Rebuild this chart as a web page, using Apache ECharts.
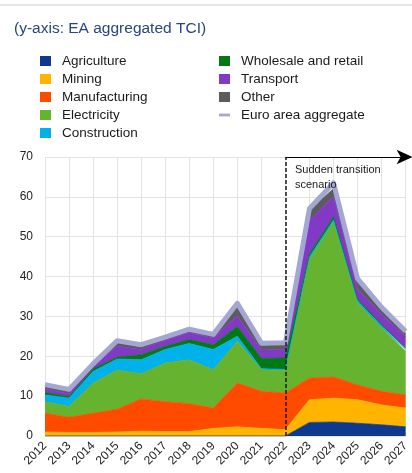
<!DOCTYPE html>
<html>
<head>
<meta charset="utf-8">
<script src="https://cdn.jsdelivr.net/npm/echarts@6/dist/echarts.min.js"></script>
<style>
html,body{margin:0;padding:0;background:#fff;}
#chart{width:412px;height:473px;}
</style>
</head>
<body>
<div id="chart"></div>
<script>
var years = ['2012','2013','2014','2015','2016','2017','2018','2019','2020','2021','2022','2023','2024','2025','2026','2027'];
var yTicks = [0,10,20,30,40,50,60,70];
var agriculture   = [0,0,0,0,0,0,0,0,0,0,0,3.4,3.5,3.2,2.8,2.3];
var mining        = [1.0,0.9,0.9,1.0,1.2,1.1,1.1,1.9,2.3,1.9,1.6,5.7,6.0,5.9,5.0,4.7];
var manufacturing = [4.7,3.8,4.8,5.7,8.1,7.5,7.0,5.1,11.0,9.3,9.2,5.4,5.3,3.7,3.4,3.3];
var electricity   = [2.9,2.7,7.6,9.8,6.3,9.7,11.0,9.6,10.5,5.4,5.6,29.8,38.8,20.6,15.9,10.9];
var construction  = [1.7,2.1,2.9,2.8,3.5,3.4,4.1,5.1,1.2,0.3,0.3,0.6,0.6,0.5,0.5,0.4];
var wholesale     = [0.6,0.4,0.7,0.5,1.3,0.8,1.0,1.2,2.5,2.6,2.9,0.8,0.8,0.5,0.4,0.4];
var transport     = [0.9,0.7,0.6,2.7,1.3,1.5,1.7,1.7,2.7,2.1,2.1,8.4,5.0,2.5,2.5,2.9];
var other         = [0.6,0.6,0.5,1.0,0.6,0.4,0.4,0.4,2.4,1.2,1.2,2.5,2.1,2.1,1.2,0.9];
var euroArea      = [12.9,11.7,18.1,23.9,22.9,24.8,26.8,25.5,33.3,23.3,23.4,57.1,63.5,39.5,32.3,26.3];

var seriesDefs = [
  ['Agriculture', agriculture, '#0d3a8e'],
  ['Mining', mining, '#ffb400'],
  ['Manufacturing', manufacturing, '#ff4b00'],
  ['Electricity', electricity, '#65b32e'],
  ['Construction', construction, '#00b1ea'],
  ['Wholesale and retail', wholesale, '#007816'],
  ['Transport', transport, '#8139c6'],
  ['Other', other, '#5c5c5c']
];

var series = seriesDefs.map(function(d){
  return {
    name: d[0], type: 'line', stack: 'total', data: d[1],
    symbol: 'none', smooth: false,
    itemStyle: {color: d[2]},
    lineStyle: {color: d[2], width: 0.8},
    areaStyle: {color: d[2], opacity: 1},
    emphasis: {disabled: true},
    z: 2
  };
});
series.push({
  name: 'Euro area aggregate', type: 'line', data: euroArea,
  symbol: 'none', smooth: false,
  itemStyle: {color: '#a4a7d3'},
  lineStyle: {color: '#a4a7d3', width: 5, join: 'round'},
  emphasis: {disabled: true},
  z: 3,
  markLine: {
    silent: true,
    animation: false,
    label: {show: false},
    data: [
      [{coord: ['2022', 0], symbol: 'none', lineStyle: {type: [4,2], color: '#1a1a1a', width: 1.5}},
       {coord: ['2022', 70], symbol: 'none'}],
      [{coord: ['2022', 70], symbol: 'none', lineStyle: {type: 'solid', color: '#000', width: 1.2}},
       {coord: ['2027', 70], symbol: 'arrow', symbolSize: [11, 16], symbolOffset: [0, -7]}]
    ]
  }
});

var legendText = {fontSize: 13.5, color: '#1a1a1a', fontFamily: 'Liberation Sans, Arial, sans-serif', lineHeight: 14, padding: [0, 0, 0, 6]};
var aggIcon = 'path://M0,0 L12,0 L12,3 L0,3 Z';

var chart = echarts.init(document.getElementById('chart'), null, {renderer: 'canvas'});
chart.setOption({
  animation: false,
  backgroundColor: '#fff',
  textStyle: {fontFamily: 'Liberation Sans, Arial, sans-serif'},
  title: {
    text: '(y-axis: EA aggregated TCI)',
    left: 9, top: 16,
    textStyle: {fontSize: 15.5, fontWeight: 'normal', color: '#27467f', fontFamily: 'Liberation Sans, Arial, sans-serif'}
  },
  legend: [
    {
      orient: 'vertical', left: 40, top: 54, padding: 0, itemWidth: 11, itemHeight: 10, itemGap: 4,
      icon: 'rect', textStyle: legendText, selectedMode: false,
      data: ['Agriculture','Mining','Manufacturing','Electricity','Construction']
    },
    {
      orient: 'vertical', left: 219, top: 54, padding: 0, itemWidth: 11, itemHeight: 10, itemGap: 4,
      icon: 'rect', textStyle: legendText, selectedMode: false,
      data: ['Wholesale and retail','Transport','Other', {name: 'Euro area aggregate', icon: aggIcon}]
    }
  ],
  grid: {left: 45, right: 1, top: 157, bottom: 37, containLabel: false},
  xAxis: {
    type: 'category', data: years, boundaryGap: false,
    axisLine: {show: false}, axisTick: {show: false},
    splitLine: {show: true, lineStyle: {color: '#e3e3e3', width: 1}},
    axisLabel: {rotate: 45, fontSize: 12, color: '#222', margin: 8, interval: 0}
  },
  yAxis: {
    type: 'value', min: yTicks[0], max: yTicks[yTicks.length-1], interval: 10,
    axisLine: {show: false}, axisTick: {show: false},
    splitLine: {show: true, lineStyle: {color: '#e3e3e3', width: 1}},
    axisLabel: {fontSize: 12, color: '#222', margin: 12}
  },
  graphic: [
    {type: 'rect', left: 0, top: 4, shape: {width: 412, height: 2}, style: {fill: '#e6e6e6'}, silent: true},
    {type: 'text', left: 295, top: 162, style: {text: 'Sudden transition\nscenario', fontSize: 11, lineHeight: 15, fill: '#1a1a1a', fontFamily: 'Liberation Sans, Arial, sans-serif'}, z: 10}
  ],
  series: series
});
</script>
</body>
</html>
